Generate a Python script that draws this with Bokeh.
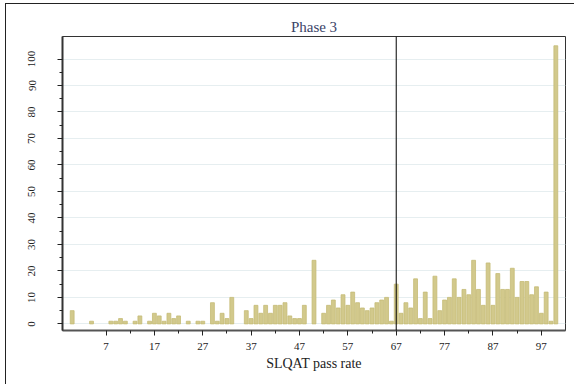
from bokeh.plotting import figure
from bokeh.models import FixedTicker, Span
from bokeh.embed import file_html
from bokeh.resources import INLINE

pass_rate = list(range(0, 101))
counts = [5, 0, 0, 0, 1, 0, 0, 0, 1, 1,
          2, 1, 0, 1, 3, 0, 1, 4, 3, 1,
          4, 2, 3, 0, 1, 0, 1, 1, 0, 8,
          1, 4, 2, 10, 0, 0, 5, 2, 7, 4,
          7, 4, 7, 7, 8, 3, 2, 2, 7, 0,
          24, 0, 4, 7, 9, 6, 11, 7, 12, 8,
          6, 5, 6, 8, 9, 10, 1, 15, 4, 8,
          6, 17, 2, 12, 2, 18, 5, 9, 10, 17,
          10, 13, 11, 24, 13, 7, 23, 7, 19, 13,
          13, 21, 10, 16, 16, 11, 14, 4, 12, 1,
          105]
x_ticks = [7, 17, 27, 37, 47, 57, 67, 77, 87, 97]
x_minor = [12, 22, 32, 42, 52, 62, 72, 82, 92]
y_ticks = [0, 10, 20, 30, 40, 50, 60, 70, 80, 90, 100]
y_minor = [5, 15, 25, 35, 45, 55, 65, 75, 85, 95]
cutoff = 67
title_text = "Phase 3"
x_label = "SLQAT pass rate"

FONT = "Liberation Serif"

# only non-empty bins are drawn
bar_x = [r for r, c in zip(pass_rate, counts) if c > 0]
bar_top = [c for c in counts if c > 0]

p = figure(width=569, height=381, output_backend="svg", toolbar_location=None,
           x_range=(-2, 102), y_range=(-2.5, 108.5),
           min_border_left=56, min_border_right=10, min_border_top=32, min_border_bottom=55,
           title=title_text)

p.styles = {"margin-left": "5px", "margin-top": "3px",
            "border-left": "1px solid #222", "border-top": "1px solid #222"}

p.vbar(x=bar_x, top=bar_top, bottom=0, width=0.8,
       fill_color="#d2c98c", line_color="#c5bb76", line_width=0.8)

p.add_layout(Span(location=cutoff, dimension="height", line_color="#000000", line_width=1))

p.title.align = "center"
p.title.text_font = FONT
p.title.text_font_style = "normal"
p.title.text_font_size = "15px"
p.title.text_color = "#3b4468"
p.title.offset = 0
p.title.standoff = 3

p.outline_line_color = "#333333"
p.outline_line_width = 1
p.background_fill_color = "white"
p.border_fill_color = "white"

p.xgrid.grid_line_color = None
p.ygrid.ticker = FixedTicker(ticks=y_ticks)
p.ygrid.grid_line_color = "#e6eef0"
p.ygrid.grid_line_width = 1

p.xaxis.ticker = FixedTicker(ticks=x_ticks, minor_ticks=x_minor)
p.xaxis.axis_label = x_label
p.xaxis.axis_label_text_font = FONT
p.xaxis.axis_label_text_font_style = "normal"
p.xaxis.axis_label_text_font_size = "14px"
p.xaxis.axis_label_text_color = "#222222"
p.xaxis.axis_label_standoff = 3
p.xaxis.major_label_text_font = FONT
p.xaxis.major_label_text_font_size = "11px"
p.xaxis.major_label_text_color = "#222222"
p.xaxis.major_label_standoff = 7
p.xaxis.axis_line_color = "#555555"
p.xaxis.axis_line_width = 2
p.xaxis.major_tick_out = 5
p.xaxis.major_tick_in = 0
p.xaxis.minor_tick_out = 3
p.xaxis.minor_tick_in = 0
p.xaxis.major_tick_line_color = "#222222"
p.xaxis.minor_tick_line_color = "#222222"

p.yaxis.ticker = FixedTicker(ticks=y_ticks, minor_ticks=y_minor)
p.yaxis.major_label_orientation = "vertical"
p.yaxis.major_label_text_font = FONT
p.yaxis.major_label_text_font_size = "11px"
p.yaxis.major_label_text_color = "#222222"
p.yaxis.major_label_standoff = 22
p.yaxis.axis_line_color = "#333333"
p.yaxis.axis_line_width = 2
p.yaxis.major_tick_out = 5
p.yaxis.major_tick_in = 0
p.yaxis.minor_tick_out = 3
p.yaxis.minor_tick_in = 0
p.yaxis.major_tick_line_color = "#222222"
p.yaxis.minor_tick_line_color = "#222222"

open("out.html", "w").write(file_html(p, INLINE))
